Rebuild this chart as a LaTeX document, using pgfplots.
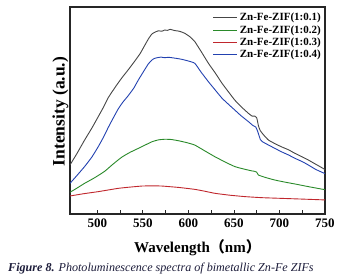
\documentclass[border=0pt]{standalone}
\usepackage{fontspec}
\setmainfont{Liberation Serif}
\newfontfamily\cjk{Noto Sans CJK SC}
\usepackage{pgfplots}
\pgfplotsset{compat=1.18}
\definecolor{cblack}{HTML}{454545}
\definecolor{cgreen}{HTML}{2A8A2A}
\definecolor{cred}{HTML}{C0272D}
\definecolor{cblue}{HTML}{2241B0}
\definecolor{capcol}{HTML}{1C1C3A}
\begin{document}
\begin{tikzpicture}
\useasboundingbox (-70pt,-66pt) rectangle (273pt,214pt);
\begin{axis}[
  at={(0pt,0pt)}, anchor=south west,
  scale only axis, width=255pt, height=207pt,
  xmin=470, xmax=750, ymin=0, ymax=100,
  xtick={500,550,600,650,700,750},
  minor x tick num=1,
  ytick=\empty,
  xtick pos=bottom,
  tick align=inside,
  major tick length=4pt, minor tick length=4pt,
  axis line style={line width=1.2pt, draw=black!85},
  every tick/.style={line width=0.8pt, black!85},
  /pgf/number format/assume math mode=true,
  xticklabel style={font=\bfseries\fontsize{13}{13}\selectfont, yshift=-1pt},
  xlabel={Wavelength{\cjk （}nm{\cjk ）}},
  xlabel style={font=\bfseries\fontsize{15}{15}\selectfont, at={(axis description cs:0.5,0)}, anchor=base, yshift=-39pt},
  ylabel={Intensity (a.u.)},
  ylabel style={font=\bfseries\fontsize{17.5}{17.5}\selectfont, at={(axis description cs:-0.037,0.495)}, anchor=center, rotate=0},
  legend style={draw=none, fill=none, at={(rel axis cs:1,1)}, anchor=north east,
    font=\bfseries\fontsize{11}{12}\selectfont, row sep=-0.9pt, inner sep=1pt,
    xshift=-1pt, yshift=-3pt},
  legend cell align=left,
  legend image code/.code={\draw[#1] (0pt,0pt) -- (24pt,0pt);},
]
\addplot[cblack, line width=0.9pt, smooth, tension=0.3] coordinates {
(470,23.7) (478,29.5) (486,35.7) (494,41.5) (501,47) (507,51.8) (512,56.2) (520,61.5) (527,65.8) (534,69.7) (541,73.8) (547,77.5) (552,81.4) (556,84.5) (560,87.0) (564,88.0) (567,88.5) (571,88.3) (574,88.9) (577,88.7) (580,89.2) (585,88.6) (590,88.3) (596,87.3) (602,85.5) (607,83.3) (614,78.5) (622,72.8) (630,67.8) (637,63.1) (644,59) (651,55) (658,51.8) (666,48.6) (670,47.3) (673,47.3) (675,46.5) (677,42.5) (679,40.2) (683,38) (688,35.7) (695,34) (702,32.5) (710,31) (717,29.3) (725,27.6) (732,26) (740,24) (748,22) (750,21.5)
};
\addlegendentry{Zn-Fe-ZIF(1:0.1)}
\addplot[cgreen, line width=0.9pt, smooth, tension=0.3] coordinates {
(470,10.5) (478,12.6) (486,14.8) (497,17.5) (508,20.6) (517,24) (527,27.5) (536,29.8) (545,31.7) (552,33.2) (560,34.9) (567,35.8) (574,36.1) (581,36) (589,35.4) (598,34.5) (607,33.3) (618,30.5) (629,27.7) (640,25.2) (651,22.9) (662,21.6) (670,20.8) (673,20.6) (675,20.2) (677,18.8) (685,17.6) (695,16.4) (706,15.4) (717,14.5) (732,13.2) (748,11.9) (750,11.8)
};
\addlegendentry{Zn-Fe-ZIF(1:0.2)}
\addplot[cred, line width=0.9pt, smooth, tension=0.3] coordinates {
(470,8.7) (485,9.8) (501,10.8) (512,11.6) (523,12.4) (536,13.0) (549,13.5) (560,13.6) (571,13.5) (590,12.8) (607,11.9) (618,11.0) (629,10) (645,9.1) (662,8.4) (680,7.9) (699,7.6) (725,7.2) (750,6.8)
};
\addlegendentry{Zn-Fe-ZIF(1:0.3)}
\addplot[cblue, line width=0.9pt, smooth, tension=0.3] coordinates {
(470,14.8) (478,18.8) (486,22.9) (494,27.5) (501,32.5) (507,37.3) (512,41.8) (518,46.8) (523,50.8) (528,54) (534,57.2) (540,60.8) (545,64.7) (551,69) (556,72.5) (560,74.4) (563,75.2) (567,75.6) (570,75.8) (574,75.5) (578,75.7) (585,75.3) (593,74.7) (600,73.9) (607,72.8) (614,68.5) (622,63.9) (630,59.6) (637,55.9) (644,53) (651,50.2) (658,47.4) (666,44.6) (671,42.7) (674,42) (676,40) (679,36) (681,35) (688,33.3) (695,31.7) (702,30.1) (710,28.5) (717,26.9) (725,25.3) (732,23.6) (740,21.5) (750,19.5)
};
\addlegendentry{Zn-Fe-ZIF(1:0.4)}
\end{axis}
\node[anchor=base west, inner sep=0pt, text=capcol, font=\itshape\fontsize{12.1}{13}\selectfont] at (-62pt,-58pt) {\textbf{Figure 8.} Photoluminescence spectra of bimetallic Zn-Fe ZIFs};
\end{tikzpicture}
\end{document}
